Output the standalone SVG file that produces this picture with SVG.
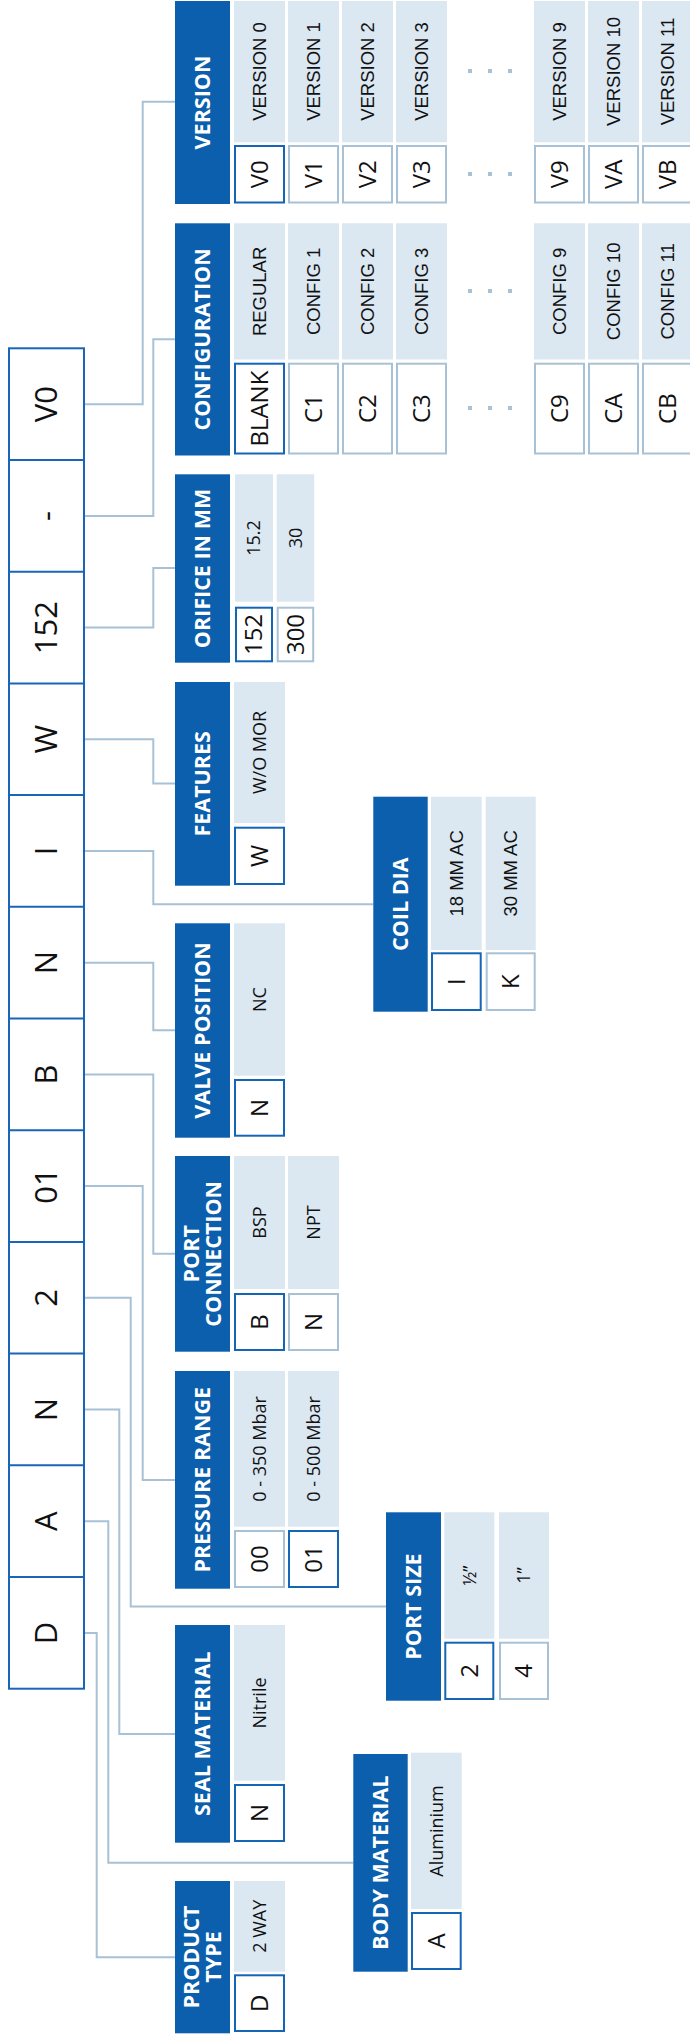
<svg xmlns="http://www.w3.org/2000/svg" width="690" height="2037" viewBox="0 0 690 2037">
<style>
.hd{fill:#0c5fad}
.ds{fill:#dbe7f1}
.cs{fill:#fff;stroke:#1565b6;stroke-width:2}
.cu{fill:#fff;stroke:#a8c1d5;stroke-width:2}
.ht{font-family:"Open Sans","Noto Sans","Liberation Sans",sans-serif;font-weight:bold;font-size:21.5px;fill:#fff;text-anchor:middle}
.dt{font-family:"Liberation Sans",Arial,sans-serif;font-size:18.5px;fill:#111;text-anchor:middle}
.dn{font-family:"Open Sans","Noto Sans","Liberation Sans",sans-serif;font-size:18px;fill:#111;text-anchor:middle}
.ct{font-family:"Open Sans","Noto Sans","Liberation Sans",sans-serif;font-size:24px;fill:#111;text-anchor:middle}
.mt{font-family:"Open Sans","Noto Sans","Liberation Sans",sans-serif;font-size:31px;fill:#111;text-anchor:middle}
.mc{fill:#fff;stroke:#1a66b6;stroke-width:2}
.dot{fill:#a8c1d5}
.cn{fill:none;stroke:#a8c1d5;stroke-width:2}
</style>
<g id="connectors">
<polyline class="cn" points="85,404.2 142.7,404.2 142.7,101.7 175,101.7"/>
<polyline class="cn" points="85,515.9 153.3,515.9 153.3,339.3 175,339.3"/>
<polyline class="cn" points="85,627.6 153.3,627.6 153.3,568 175,568"/>
<polyline class="cn" points="85,739.3 153.3,739.3 153.3,783.5 175,783.5"/>
<polyline class="cn" points="85,851 153.3,851 153.3,904.3 373.3,904.3"/>
<polyline class="cn" points="85,962.7 153.3,962.7 153.3,1030.3 175,1030.3"/>
<polyline class="cn" points="85,1074.4 153.3,1074.4 153.3,1253.7 175,1253.7"/>
<polyline class="cn" points="85,1186.1 142.7,1186.1 142.7,1480 175,1480"/>
<polyline class="cn" points="85,1297.8 130.7,1297.8 130.7,1606.5 386,1606.5"/>
<polyline class="cn" points="85,1409.5 119.3,1409.5 119.3,1734 175,1734"/>
<polyline class="cn" points="85,1521.2 108.3,1521.2 108.3,1862.7 353.3,1862.7"/>
<polyline class="cn" points="85,1632.9 96.7,1632.9 96.7,1957.3 175,1957.3"/>
</g>
<g id="code">
<rect class="mc" x="9" y="348.3" width="75" height="1340.4"/>
<path class="cn" style="stroke:#1a66b6" d="M9,460H84M9,571.7H84M9,683.4H84M9,795.1H84M9,906.8H84M9,1018.5H84M9,1130.2H84M9,1241.9H84M9,1353.6H84M9,1465.3H84M9,1577H84"/>
<text class="mt" transform="translate(46.5,404.2) rotate(-90)" dy="0.35em">V0</text>
<text class="mt" transform="translate(46.5,515.9) rotate(-90)" dy="0.35em">-</text>
<text class="mt" transform="translate(46.5,627.6) rotate(-90)" dy="0.35em">152</text>
<text class="mt" transform="translate(46.5,739.3) rotate(-90)" dy="0.35em">W</text>
<text class="mt" transform="translate(46.5,851) rotate(-90)" dy="0.35em">I</text>
<text class="mt" transform="translate(46.5,962.7) rotate(-90)" dy="0.35em">N</text>
<text class="mt" transform="translate(46.5,1074.4) rotate(-90)" dy="0.35em">B</text>
<text class="mt" transform="translate(46.5,1186.1) rotate(-90)" dy="0.35em">01</text>
<text class="mt" transform="translate(46.5,1297.8) rotate(-90)" dy="0.35em">2</text>
<text class="mt" transform="translate(46.5,1409.5) rotate(-90)" dy="0.35em">N</text>
<text class="mt" transform="translate(46.5,1521.2) rotate(-90)" dy="0.35em">A</text>
<text class="mt" transform="translate(46.5,1632.9) rotate(-90)" dy="0.35em">D</text>
</g>
<g id="version">
<rect class="hd" x="175" y="1" width="55" height="203"/>
<text class="ht" transform="translate(202.5,102.5) rotate(-90)" dy="0.35em">VERSION</text>
<rect class="ds" x="234" y="1" width="51" height="141.3"/><rect class="cs" x="235" y="146" width="49" height="56.5"/>
<rect class="ds" x="288" y="1" width="51" height="141.3"/><rect class="cu" x="289" y="146" width="49" height="56.5"/>
<rect class="ds" x="342" y="1" width="51" height="141.3"/><rect class="cu" x="343" y="146" width="49" height="56.5"/>
<rect class="ds" x="396" y="1" width="51" height="141.3"/><rect class="cu" x="397" y="146" width="49" height="56.5"/>
<rect class="ds" x="534" y="1" width="51" height="141.3"/><rect class="cu" x="535" y="146" width="49" height="56.5"/>
<rect class="ds" x="588" y="1" width="51" height="141.3"/><rect class="cu" x="589" y="146" width="49" height="56.5"/>
<rect class="ds" x="642" y="1" width="51" height="141.3"/><rect class="cu" x="643" y="146" width="49" height="56.5"/>
<text class="dt" transform="translate(259.5,71.5) rotate(-90)" dy="0.35em">VERSION 0</text>
<text class="dt" transform="translate(313.5,71.5) rotate(-90)" dy="0.35em">VERSION 1</text>
<text class="dt" transform="translate(367.5,71.5) rotate(-90)" dy="0.35em">VERSION 2</text>
<text class="dt" transform="translate(421.5,71.5) rotate(-90)" dy="0.35em">VERSION 3</text>
<text class="dt" transform="translate(559.5,71.5) rotate(-90)" dy="0.35em">VERSION 9</text>
<text class="dt" transform="translate(613.5,71.5) rotate(-90)" dy="0.35em">VERSION 10</text>
<text class="dt" transform="translate(667.5,71.5) rotate(-90)" dy="0.35em">VERSION 11</text>
<text class="ct" transform="translate(259.5,174.3) rotate(-90)" dy="0.35em">V0</text>
<text class="ct" transform="translate(313.5,174.3) rotate(-90)" dy="0.35em">V1</text>
<text class="ct" transform="translate(367.5,174.3) rotate(-90)" dy="0.35em">V2</text>
<text class="ct" transform="translate(421.5,174.3) rotate(-90)" dy="0.35em">V3</text>
<text class="ct" transform="translate(559.5,174.3) rotate(-90)" dy="0.35em">V9</text>
<text class="ct" transform="translate(613.5,174.3) rotate(-90)" dy="0.35em">VA</text>
<text class="ct" transform="translate(667.5,174.3) rotate(-90)" dy="0.35em">VB</text>
<rect class="dot" x="468" y="69" width="4" height="4"/><rect class="dot" x="488" y="69" width="4" height="4"/><rect class="dot" x="508" y="69" width="4" height="4"/>
<rect class="dot" x="468" y="172" width="4" height="4"/><rect class="dot" x="488" y="172" width="4" height="4"/><rect class="dot" x="508" y="172" width="4" height="4"/>
</g>
<g id="configuration">
<rect class="hd" x="175" y="223.3" width="55" height="232.2"/>
<text class="ht" transform="translate(202.5,339.4) rotate(-90)" dy="0.35em">CONFIGURATION</text>
<rect class="ds" x="234" y="223.3" width="51" height="136.2"/><rect class="cs" x="235" y="363.7" width="49" height="89.8"/>
<rect class="ds" x="288" y="223.3" width="51" height="136.2"/><rect class="cu" x="289" y="363.7" width="49" height="89.8"/>
<rect class="ds" x="342" y="223.3" width="51" height="136.2"/><rect class="cu" x="343" y="363.7" width="49" height="89.8"/>
<rect class="ds" x="396" y="223.3" width="51" height="136.2"/><rect class="cu" x="397" y="363.7" width="49" height="89.8"/>
<rect class="ds" x="534" y="223.3" width="51" height="136.2"/><rect class="cu" x="535" y="363.7" width="49" height="89.8"/>
<rect class="ds" x="588" y="223.3" width="51" height="136.2"/><rect class="cu" x="589" y="363.7" width="49" height="89.8"/>
<rect class="ds" x="642" y="223.3" width="51" height="136.2"/><rect class="cu" x="643" y="363.7" width="49" height="89.8"/>
<text class="dt" transform="translate(259.5,291.4) rotate(-90)" dy="0.35em">REGULAR</text>
<text class="dt" transform="translate(313.5,291.4) rotate(-90)" dy="0.35em">CONFIG 1</text>
<text class="dt" transform="translate(367.5,291.4) rotate(-90)" dy="0.35em">CONFIG 2</text>
<text class="dt" transform="translate(421.5,291.4) rotate(-90)" dy="0.35em">CONFIG 3</text>
<text class="dt" transform="translate(559.5,291.4) rotate(-90)" dy="0.35em">CONFIG 9</text>
<text class="dt" transform="translate(613.5,291.4) rotate(-90)" dy="0.35em">CONFIG 10</text>
<text class="dt" transform="translate(667.5,291.4) rotate(-90)" dy="0.35em">CONFIG 11</text>
<text class="ct" transform="translate(259.5,408.6) rotate(-90)" dy="0.35em">BLANK</text>
<text class="ct" transform="translate(313.5,408.6) rotate(-90)" dy="0.35em">C1</text>
<text class="ct" transform="translate(367.5,408.6) rotate(-90)" dy="0.35em">C2</text>
<text class="ct" transform="translate(421.5,408.6) rotate(-90)" dy="0.35em">C3</text>
<text class="ct" transform="translate(559.5,408.6) rotate(-90)" dy="0.35em">C9</text>
<text class="ct" transform="translate(613.5,408.6) rotate(-90)" dy="0.35em">CA</text>
<text class="ct" transform="translate(667.5,408.6) rotate(-90)" dy="0.35em">CB</text>
<rect class="dot" x="468" y="289" width="4" height="4"/><rect class="dot" x="488" y="289" width="4" height="4"/><rect class="dot" x="508" y="289" width="4" height="4"/>
<rect class="dot" x="468" y="406" width="4" height="4"/><rect class="dot" x="488" y="406" width="4" height="4"/><rect class="dot" x="508" y="406" width="4" height="4"/>
</g>
<g id="orifice">
<rect class="hd" x="175" y="474.3" width="55" height="188.4"/>
<text class="ht" transform="translate(202.5,568.5) rotate(-90)" dy="0.35em">ORIFICE IN MM</text>
<rect class="ds" x="235" y="474.3" width="38" height="127.4"/><rect class="cs" x="236" y="607.7" width="36" height="53.6"/>
<rect class="ds" x="276.7" y="474.3" width="37.5" height="127.4"/><rect class="cu" x="277.7" y="607.7" width="35.5" height="53.6"/>
<text class="dn" transform="translate(254,538) rotate(-90)" dy="0.35em">15.2</text>
<text class="dn" transform="translate(295.4,538) rotate(-90)" dy="0.35em">30</text>
<text class="ct" transform="translate(254,634.5) rotate(-90)" dy="0.35em">152</text>
<text class="ct" transform="translate(295.4,634.5) rotate(-90)" dy="0.35em">300</text>
</g>
<g id="features">
<rect class="hd" x="175" y="682" width="55" height="203.7"/>
<text class="ht" transform="translate(202.5,783.8) rotate(-90)" dy="0.35em">FEATURES</text>
<rect class="ds" x="234" y="682" width="51" height="141"/><rect class="cs" x="235" y="827.7" width="49" height="56.3"/>
<text class="dn" transform="translate(259.5,752.5) rotate(-90)" dy="0.35em">W/O MOR</text>
<text class="ct" transform="translate(259.5,855.8) rotate(-90)" dy="0.35em">W</text>
</g>
<g id="coil-dia">
<rect class="hd" x="373.3" y="796.7" width="54.4" height="215"/>
<text class="ht" transform="translate(400.5,904.2) rotate(-90)" dy="0.35em">COIL DIA</text>
<rect class="ds" x="431" y="796.7" width="50.7" height="153.3"/><rect class="cs" x="432" y="953.3" width="48.7" height="56.7"/>
<rect class="ds" x="485.7" y="796.7" width="50" height="153.3"/><rect class="cu" x="486.7" y="953.3" width="48" height="56.7"/>
<text class="dt" transform="translate(456.5,873.4) rotate(-90)" dy="0.35em">18 MM AC</text>
<text class="dt" transform="translate(510.7,873.4) rotate(-90)" dy="0.35em">30 MM AC</text>
<text class="ct" transform="translate(456.5,981.7) rotate(-90)" dy="0.35em">I</text>
<text class="ct" transform="translate(510.7,981.7) rotate(-90)" dy="0.35em">K</text>
</g>
<g id="valve-position">
<rect class="hd" x="175" y="923.3" width="55" height="214.4"/>
<text class="ht" transform="translate(202.5,1030.5) rotate(-90)" dy="0.35em">VALVE POSITION</text>
<rect class="ds" x="234" y="923.3" width="51" height="152.4"/><rect class="cs" x="235" y="1080" width="49" height="55.7"/>
<text class="dn" transform="translate(259.5,999.5) rotate(-90)" dy="0.35em">NC</text>
<text class="ct" transform="translate(259.5,1107.9) rotate(-90)" dy="0.35em">N</text>
</g>
<g id="port-connection">
<rect class="hd" x="175" y="1156" width="55" height="195.7"/>
<text class="ht" transform="translate(191.5,1253.8) rotate(-90)" dy="0.35em">PORT</text>
<text class="ht" transform="translate(213.5,1253.8) rotate(-90)" dy="0.35em">CONNECTION</text>
<rect class="ds" x="234" y="1156" width="51" height="133"/><rect class="cs" x="235" y="1294" width="49" height="56"/>
<rect class="ds" x="288" y="1156" width="51" height="133"/><rect class="cu" x="289" y="1294" width="49" height="56"/>
<text class="dn" transform="translate(259.5,1222.5) rotate(-90)" dy="0.35em">BSP</text>
<text class="dn" transform="translate(313.5,1222.5) rotate(-90)" dy="0.35em">NPT</text>
<text class="ct" transform="translate(259.5,1322) rotate(-90)" dy="0.35em">B</text>
<text class="ct" transform="translate(313.5,1322) rotate(-90)" dy="0.35em">N</text>
</g>
<g id="pressure-range">
<rect class="hd" x="175" y="1371" width="55" height="217.7"/>
<text class="ht" transform="translate(202.5,1479.8) rotate(-90)" dy="0.35em">PRESSURE RANGE</text>
<rect class="ds" x="234" y="1371" width="51" height="155.7"/><rect class="cu" x="235" y="1531" width="49" height="56"/>
<rect class="ds" x="288" y="1371" width="51" height="155.7"/><rect class="cs" x="289" y="1531" width="49" height="56"/>
<text class="dn" transform="translate(259.5,1449) rotate(-90)" dy="0.35em">0 - 350 Mbar</text>
<text class="dn" transform="translate(313.5,1449) rotate(-90)" dy="0.35em">0 - 500 Mbar</text>
<text class="ct" transform="translate(259.5,1559) rotate(-90)" dy="0.35em">00</text>
<text class="ct" transform="translate(313.5,1559) rotate(-90)" dy="0.35em">01</text>
</g>
<g id="port-size">
<rect class="hd" x="386" y="1512.3" width="55" height="188.4"/>
<text class="ht" transform="translate(413.5,1606.5) rotate(-90)" dy="0.35em">PORT SIZE</text>
<rect class="ds" x="444.3" y="1512.3" width="50" height="126.4"/><rect class="cs" x="445.3" y="1642.7" width="48" height="56.3"/>
<rect class="ds" x="499" y="1512.3" width="50" height="126.4"/><rect class="cu" x="500" y="1642.7" width="48" height="56.3"/>
<text class="dn" transform="translate(469.3,1575.5) rotate(-90)" dy="0.35em">½”</text>
<text class="dn" transform="translate(524,1575.5) rotate(-90)" dy="0.35em">1”</text>
<text class="ct" transform="translate(469.3,1670.8) rotate(-90)" dy="0.35em">2</text>
<text class="ct" transform="translate(524,1670.8) rotate(-90)" dy="0.35em">4</text>
</g>
<g id="seal-material">
<rect class="hd" x="175" y="1625" width="55" height="217.7"/>
<text class="ht" transform="translate(202.5,1733.8) rotate(-90)" dy="0.35em">SEAL MATERIAL</text>
<rect class="ds" x="234" y="1625" width="51" height="155.7"/><rect class="cs" x="235" y="1785" width="49" height="56"/>
<text class="dn" transform="translate(259.5,1703) rotate(-90)" dy="0.35em">Nitrile</text>
<text class="ct" transform="translate(259.5,1813) rotate(-90)" dy="0.35em">N</text>
</g>
<g id="body-material">
<rect class="hd" x="353.3" y="1754" width="54.4" height="217.7"/>
<text class="ht" transform="translate(380.5,1862.8) rotate(-90)" dy="0.35em">BODY MATERIAL</text>
<rect class="ds" x="411" y="1752.7" width="50.7" height="156.3"/><rect class="cs" x="412" y="1913" width="48.7" height="56"/>
<text class="dn" transform="translate(436.3,1831) rotate(-90)" dy="0.35em">Aluminium</text>
<text class="ct" transform="translate(436.3,1941) rotate(-90)" dy="0.35em">A</text>
</g>
<g id="product-type">
<rect class="hd" x="175" y="1881" width="55" height="152.3"/>
<text class="ht" transform="translate(191.5,1957) rotate(-90)" dy="0.35em">PRODUCT</text>
<text class="ht" transform="translate(213.5,1957) rotate(-90)" dy="0.35em">TYPE</text>
<rect class="ds" x="234" y="1881" width="51" height="90.7"/><rect class="cs" x="235" y="1975.3" width="49" height="55.7"/>
<text class="dn" transform="translate(259.5,1926.3) rotate(-90)" dy="0.35em">2 WAY</text>
<text class="ct" transform="translate(259.5,2003.2) rotate(-90)" dy="0.35em">D</text>
</g>
</svg>
